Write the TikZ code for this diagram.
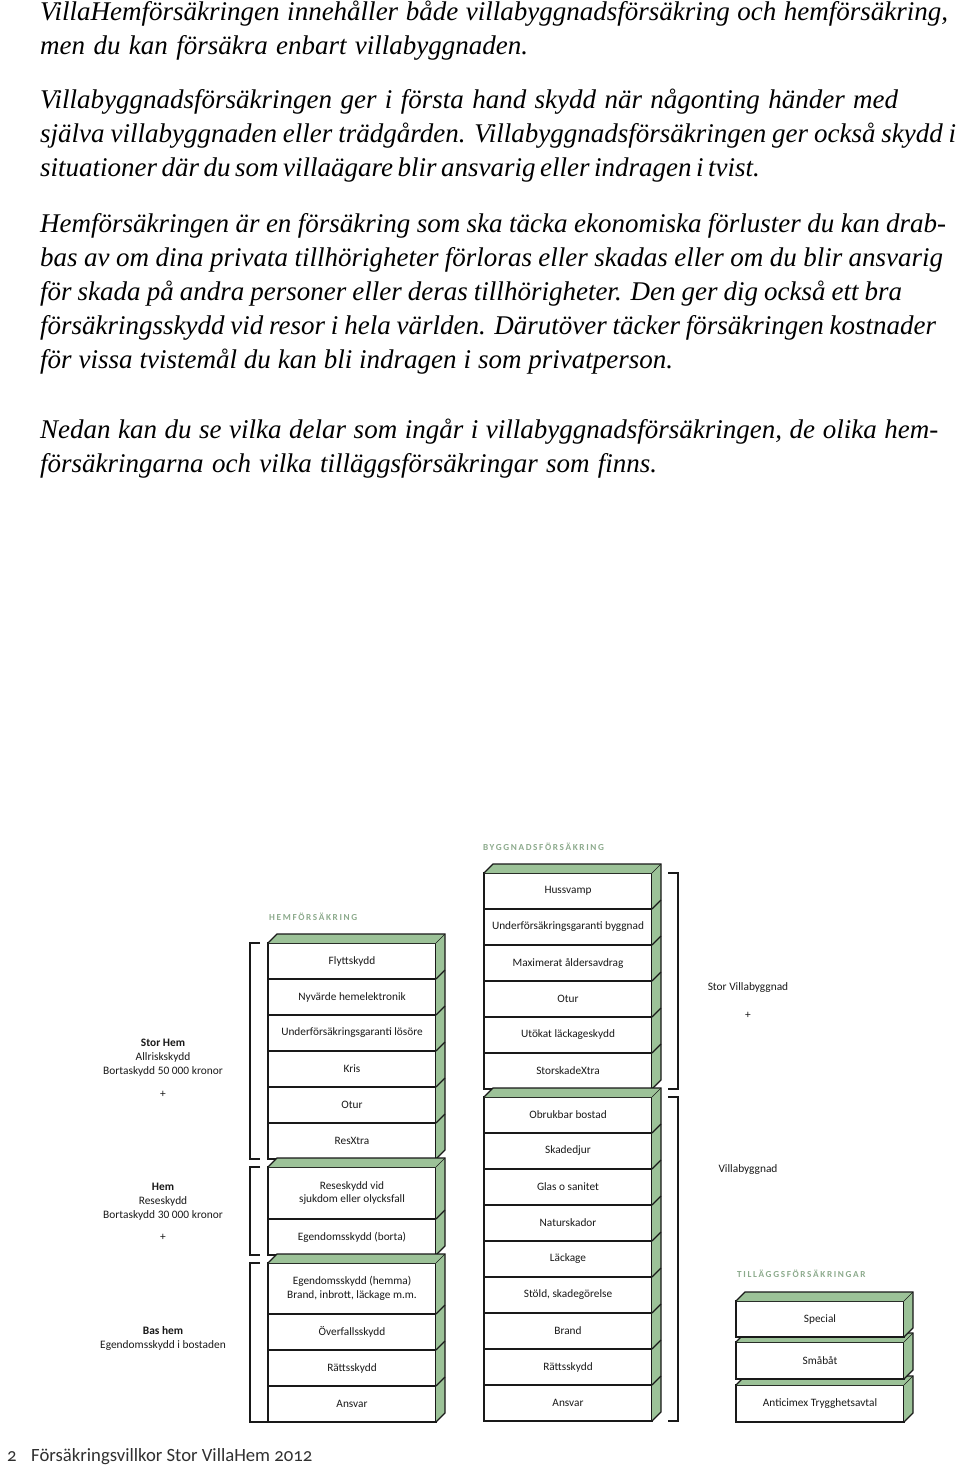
\documentclass[tikz,border=0pt]{standalone}
\usepackage{fontspec}
\setmainfont{Liberation Serif}
\newfontfamily\boxfam{Carlito}
\newfontfamily\capsfam[LetterSpace=18]{Carlito}
\newfontfamily\footfam[Numbers=OldStyle]{Carlito}
\definecolor{sidegreen}{RGB}{156,194,152}
\definecolor{capsgreen}{RGB}{140,170,140}
\definecolor{ink}{RGB}{25,25,25}
\tikzset{
 row/.style={draw=ink, fill=white, line width=1.2pt, minimum width=168pt, minimum height=#1, inner sep=0pt, outer sep=0pt, anchor=north west, align=center, font=\boxfam\fontsize{11.3}{13.5}\selectfont, text=ink},
 row/.default=36pt,
 edge/.style={draw=ink, line width=1.2pt, line join=miter},
 bracket/.style={draw=ink, line width=1.1pt},
 caps/.style={anchor=west, font=\capsfam\bfseries\fontsize{9.2}{10}\selectfont, text=capsgreen, inner sep=0pt},
 side/.style={anchor=center, align=center, font=\boxfam\fontsize{11.4}{14}\selectfont, text=ink, inner sep=0pt},
 body/.style={anchor=base west, inner sep=0pt, font=\fontsize{27}{34}\selectfont\itshape, text=black},
 foot/.style={anchor=base west, inner sep=0pt, font=\footfam\fontsize{18.7}{20}\selectfont, text=ink!90},
}
\newcommand\cubeonly[2]{%
 \fill[sidegreen] (#1.north west) -- ++(9,-9) -- ([shift={(9,-9)}]#1.north east) -- ([shift={(9,-9)}]#2.south east) -- (#2.south east) -- (#1.north east) -- cycle;
 \draw[edge] (#1.north west) -- ++(9,-9) -- ([shift={(9,-9)}]#1.north east) -- ([shift={(9,-9)}]#2.south east) -- (#2.south east);
 \draw[ink, line width=0.4pt] (#1.north east) -- ++(9,-9);
}
\newcommand\rowlines[1]{\foreach \r in {#1} {\draw[edge] (\r.south east) -- ++(9,-9);}}
\begin{document}
\begin{tikzpicture}[x=1pt,y=-1pt]
\useasboundingbox (0,0) rectangle (960,1468);
% body text
\node[body] (p1) at (40,20) {\makebox[908pt][s]{VillaHemförsäkringen innehåller både villabyggnadsförsäkring och hemförsäkring,}};
\node[body] (p2) at (40,54) {\makebox[488pt][s]{men du kan försäkra enbart villabyggnaden.}};
\node[body] (p3) at (40,108) {\makebox[858pt][s]{Villabyggnadsförsäkringen ger i första hand skydd när någonting händer med}};
\node[body] (p4) at (40,142) {\makebox[916pt][s]{själva villabyggnaden eller trädgården. Villabyggnadsförsäkringen ger också skydd i}};
\node[body] (p5) at (40,176) {\makebox[676pt][s]{situationer där du som villaägare blir ansvarig eller indragen i tvist.}};
\node[body] (p6) at (40,232) {\makebox[906pt][s]{Hemförsäkringen är en försäkring som ska täcka ekonomiska förluster du kan drab-}};
\node[body] (p7) at (40,266) {\makebox[903pt][s]{bas av om dina privata tillhörigheter förloras eller skadas eller om du blir ansvarig}};
\node[body] (p8) at (40,300) {\makebox[862pt][s]{för skada på andra personer eller deras tillhörigheter. Den ger dig också ett bra}};
\node[body] (p9) at (40,334) {\makebox[896pt][s]{försäkringsskydd vid resor i hela världen. Därutöver täcker försäkringen kostnader}};
\node[body] (p10) at (40,368) {\makebox[633pt][s]{för vissa tvistemål du kan bli indragen i som privatperson.}};
\node[body] (p11) at (40,438) {\makebox[898pt][s]{Nedan kan du se vilka delar som ingår i villabyggnadsförsäkringen, de olika hem-}};
\node[body] (p12) at (40,472) {\makebox[617pt][s]{försäkringarna och vilka tilläggsförsäkringar som finns.}};
% caps labels
\node[caps] (lblB) at (483,847) {BYGGNADSFÖRSÄKRING};
\node[caps] (lblH) at (269,917) {HEMFÖRSÄKRING};
\node[caps] (lblT) at (737,1274) {TILLÄGGSFÖRSÄKRINGAR};
% Byggnad column
\node[row] (b1) at (484,873) {Hussvamp};
\node[row] (b2) at (484,909) {Underförsäkringsgaranti byggnad};
\node[row] (b3) at (484,945) {Maximerat åldersavdrag};
\node[row] (b4) at (484,981) {Otur};
\node[row] (b5) at (484,1017) {Utökat läckageskydd};
\node[row] (b6) at (484,1053) {StorskadeXtra};
\cubeonly{b1}{b6}\rowlines{b1,b2,b3,b4,b5}
\node[row] (b7) at (484,1097) {Obrukbar bostad};
\node[row] (b8) at (484,1133) {Skadedjur};
\node[row] (b9) at (484,1169) {Glas o sanitet};
\node[row] (b10) at (484,1205) {Naturskador};
\node[row] (b11) at (484,1241) {Läckage};
\node[row] (b12) at (484,1277) {Stöld, skadegörelse};
\node[row] (b13) at (484,1313) {Brand};
\node[row] (b14) at (484,1349) {Rättsskydd};
\node[row] (b15) at (484,1385) {Ansvar};
\cubeonly{b7}{b15}\rowlines{b7,b8,b9,b10,b11,b12,b13,b14}
% Hem column
\node[row] (h1) at (268,943) {Flyttskydd};
\node[row] (h2) at (268,979) {Nyvärde hemelektronik};
\node[row] (h3) at (268,1015) {Underförsäkringsgaranti lösöre};
\node[row] (h4) at (268,1051) {Kris};
\node[row] (h5) at (268,1087) {Otur};
\node[row] (h6) at (268,1123) {ResXtra};
\cubeonly{h1}{h6}\rowlines{h1,h2,h3,h4,h5}
\node[row=52pt] (h7) at (268,1167) {Reseskydd vid\\sjukdom eller olycksfall};
\node[row] (h8) at (268,1219) {Egendomsskydd (borta)};
\cubeonly{h7}{h8}\rowlines{h7}
\node[row=51pt] (h9) at (268,1263) {Egendomsskydd (hemma)\\Brand, inbrott, läckage m.m.};
\node[row] (h10) at (268,1314) {Överfallsskydd};
\node[row] (h11) at (268,1350) {Rättsskydd};
\node[row] (h12) at (268,1386) {Ansvar};
\cubeonly{h9}{h12}\rowlines{h9,h10,h11}
% Tillägg column
\node[row=37pt] (t3) at (736,1385) {Anticimex Trygghetsavtal};
\cubeonly{t3}{t3}
\node[row=37pt] (t2) at (736,1342) {Småbåt};
\cubeonly{t2}{t2}
\node[row] (t1) at (736,1301) {Special};
\cubeonly{t1}{t1}
% brackets
\draw[bracket] ([xshift=-8pt]h1.north west) -| ([xshift=-18pt]h6.south west) -- ([xshift=-8pt]h6.south west);
\draw[bracket] ([xshift=-8pt]h7.north west) -| ([xshift=-18pt]h8.south west) -- ([xshift=-8pt]h8.south west);
\draw[bracket] ([xshift=-8pt]h9.north west) -| ([xshift=-18pt]h12.south west) -- (h12.south west);
\draw[bracket] ([xshift=16pt]b1.north east) -| ([xshift=26pt]b6.south east) -- ([xshift=16pt]b6.south east);
\draw[bracket] ([xshift=16pt]b7.north east) -| ([xshift=26pt]b15.south east) -- ([xshift=16pt]b15.south east);
% side labels
\node[side] (stor) at (163,1058) {\textbf{Stor Hem}\\Allriskskydd\\Bortaskydd 50 000 kronor};
\node[side] (plus1) at (163,1094) {+};
\node[side] (hem) at (163,1202) {\textbf{Hem}\\Reseskydd\\Bortaskydd 30 000 kronor};
\node[side] (plus2) at (163,1237) {+};
\node[side] (bas) at (163,1338.5) {\textbf{Bas hem}\\Egendomsskydd i bostaden};
\node[side] (svb) at (748,988) {Stor Villabyggnad};
\node[side] (plus3) at (748,1015) {+};
\node[side] (vb) at (748,1170) {Villabyggnad};
% footer
\node[foot] (pg) at (7,1461) {2};
\node[foot] (fn) at (31,1461) {Försäkringsvillkor Stor VillaHem 2012};
\end{tikzpicture}
\end{document}
